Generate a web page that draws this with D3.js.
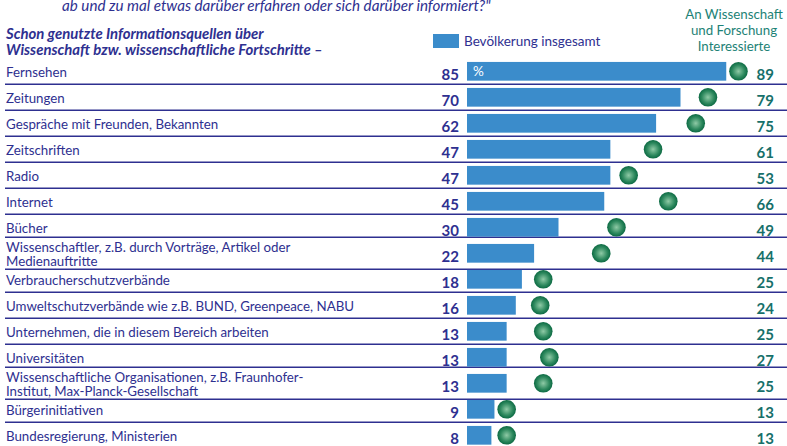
<!DOCTYPE html>
<html lang="de">
<head>
<meta charset="utf-8">
<title>Informationsquellen Wissenschaft</title>
<script src="https://d3js.org/d3.v7.min.js"></script>
<style>
  body { margin: 0; background: #fff; }
  svg text { font-family: Lato, "Open Sans", sans-serif; }
</style>
</head>
<body>
<div id="chart"></div>
<script>

// --- data ---
var categories = [
  "Fernsehen",
  "Zeitungen",
  "Gespräche mit Freunden, Bekannten",
  "Zeitschriften",
  "Radio",
  "Internet",
  "Bücher",
  "Wissenschaftler, z.B. durch Vorträge, Artikel oder\nMedienauftritte",
  "Verbraucherschutzverbände",
  "Umweltschutzverbände wie z.B. BUND, Greenpeace, NABU",
  "Unternehmen, die in diesem Bereich arbeiten",
  "Universitäten",
  "Wissenschaftliche Organisationen, z.B. Fraunhofer-\nInstitut, Max-Planck-Gesellschaft",
  "Bürgerinitiativen",
  "Bundesregierung, Ministerien"
];
var bevoelkerung = [85, 70, 62, 47, 47, 45, 30, 22, 18, 16, 13, 13, 13, 9, 8];
var interessierte = [89, 79, 75, 61, 53, 66, 49, 44, 25, 24, 25, 27, 25, 13, 13];

var questionTail = "ab und zu mal etwas darüber erfahren oder sich darüber informiert?\"";
var titleLines = ["Schon genutzte Informationsquellen über", "Wissenschaft bzw. wissenschaftliche Fortschritte –"];
var legendLabel = "Bevölkerung insgesamt";
var rightHeader = ["An Wissenschaft", "und Forschung", "Interessierte"];

var W = 787, H = 446;
var indigo = "#2e3090", teal = "#17706a", barColor = "#3b8ccb";

var svg = d3.select("#chart").append("svg")
  .attr("width", W).attr("height", H);

var defs = svg.append("defs");
var grad = defs.append("radialGradient").attr("id", "dot")
  .attr("cx", "50%").attr("cy", "50%").attr("r", "50%");
grad.append("stop").attr("offset", "0%").attr("stop-color", "#8fcaa6");
grad.append("stop").attr("offset", "65%").attr("stop-color", "#2f8a5f");
grad.append("stop").attr("offset", "100%").attr("stop-color", "#0c6a43");

var x = d3.scaleLinear().domain([0, 100]).range([467, 772]);
var y = d3.scaleBand().domain(d3.range(categories.length))
  .range([58.3, 448.3]).paddingInner(0.28).paddingOuter(0.14);

var lines = function(s) { return s.split("\n"); };

// question text cut off at the top
svg.append("text").attr("x", 62).attr("y", 10.5)
  .attr("fill", indigo).attr("font-size", 15.2).attr("font-style", "italic")
  .text(questionTail);

// title
svg.selectAll(".title").data(titleLines).enter().append("text")
  .attr("class", "title")
  .attr("x", 6).attr("y", function(d, i) { return 38.5 + i * 16.5; })
  .attr("fill", indigo).attr("font-size", 14.9).attr("font-weight", "bold").attr("font-style", "italic")
  .text(function(d) { return d; });

// legend
svg.append("rect").attr("x", 433).attr("y", 34).attr("width", 26).attr("height", 14).attr("fill", barColor);
svg.append("text").attr("x", 464).attr("y", 45.5)
  .attr("fill", indigo).attr("font-size", 13.5).text(legendLabel);

// right header
svg.selectAll(".rh").data(rightHeader).enter().append("text")
  .attr("class", "rh")
  .attr("x", 734).attr("y", function(d, i) { return 19 + i * 16; })
  .attr("text-anchor", "middle").attr("fill", "#1d8276").attr("font-size", 13.3)
  .text(function(d) { return d; });

// separators: midway between rows, table rows with two text lines are a bit taller
var seps = d3.range(categories.length - 1).map(function(i) {
  var mid = (y(i) + y(i + 1) + y.bandwidth()) / 2;
  if (lines(categories[i + 1]).length > 1) mid -= 3;
  if (lines(categories[i]).length > 1) mid += 3;
  return mid;
});
svg.selectAll(".sep").data(seps).enter().append("line")
  .attr("x1", 5).attr("x2", W).attr("y1", function(d) { return d; }).attr("y2", function(d) { return d; })
  .attr("stroke", indigo).attr("stroke-width", 1.4);

var rows = svg.selectAll(".row").data(categories).enter().append("g")
  .attr("class", "row")
  .attr("transform", function(d, i) { return "translate(0," + (y(i) + y.bandwidth() / 2) + ")"; });

// category labels
rows.each(function(d) {
  var ls = lines(d);
  var g = d3.select(this);
  ls.forEach(function(l, j) {
    g.append("text").attr("x", 6)
      .attr("y", 5.5 + (j - (ls.length - 1) / 2) * 13.5)
      .attr("fill", indigo).attr("font-size", 13.3)
      .text(l);
  });
});

// bars
rows.append("rect")
  .attr("x", x(0)).attr("y", -y.bandwidth() / 2)
  .attr("width", function(d, i) { return x(bevoelkerung[i]) - x(0); })
  .attr("height", y.bandwidth())
  .attr("fill", barColor);

// left values
rows.append("text").attr("x", 459).attr("y", 8.5)
  .attr("text-anchor", "end").attr("fill", indigo)
  .attr("font-size", 15).attr("font-weight", "bold")
  .text(function(d, i) { return bevoelkerung[i]; });

// dots
rows.append("circle")
  .attr("cx", function(d, i) { return x(interessierte[i]); })
  .attr("cy", 0).attr("r", 9.3)
  .attr("fill", "url(#dot)");

// right values
rows.append("text").attr("x", 774).attr("y", 8.5)
  .attr("text-anchor", "end").attr("fill", teal)
  .attr("font-size", 15).attr("font-weight", "bold")
  .text(function(d, i) { return interessierte[i]; });

// percent sign in the first bar
svg.append("text").attr("x", 473).attr("y", y(0) + y.bandwidth() / 2 + 5)
  .attr("fill", "#fff").attr("font-size", 13.5).text("%");

</script>
</body>
</html>
